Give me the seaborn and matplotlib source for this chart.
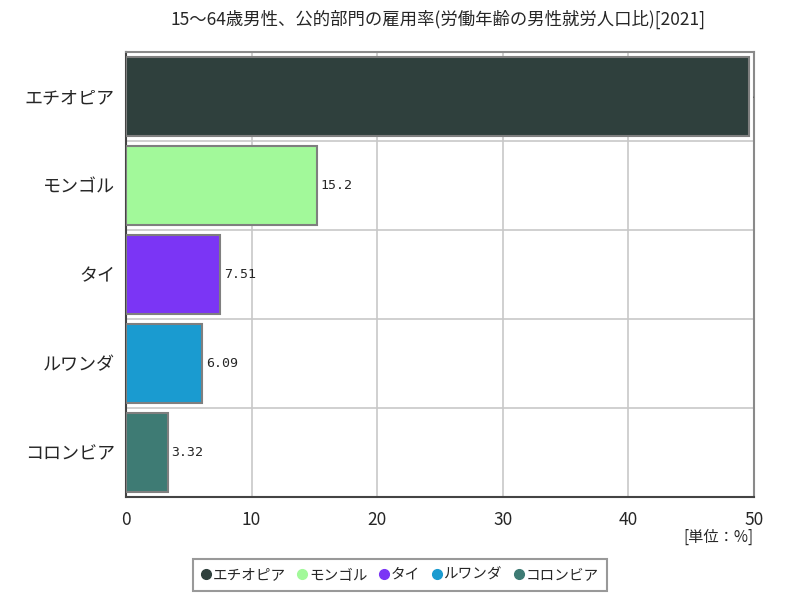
import matplotlib
matplotlib.use("Agg")
import matplotlib.pyplot as plt
from matplotlib.lines import Line2D
import seaborn as sns
import pandas as pd
import numpy as np

# données
countries = ["エチオピア", "モンゴル", "タイ", "ルワンダ", "コロンビア"]
values = [49.6, 15.2, 7.51, 6.09, 3.32]
labels = ["49.6", "15.2", "7.51", "6.09", "3.32"]
colors = ["#2f403d", "#a2f99a", "#7b35f5", "#1a9bd0", "#3e7b74"]
xticks = [0, 10, 20, 30, 40, 50]

title = "15～64歳男性、公的部門の雇用率(労働年齢の男性就労人口比)[2021]"
unit = "[単位：%]"

sns.set_style("white")
plt.rcParams["font.family"] = ["Noto Sans CJK JP", "DejaVu Sans"]

df = pd.DataFrame({"country": countries, "value": values})

fig = plt.figure(figsize=(8, 6), dpi=100)
ax = fig.add_axes([0.1575, 0.1717, 0.785, 0.7417])

sns.barplot(data=df, y="country", x="value", hue="country",
            palette=dict(zip(countries, colors)), orient="h", saturation=1,
            width=0.88, edgecolor="#7f7f7f", linewidth=1.5,
            legend=False, ax=ax, zorder=3)

ax.set_xlim(0, 50)
ax.set_ylim(4.5, -0.5)
ax.set_xticks(xticks)
ax.set_xticklabels([str(t) for t in xticks], fontsize=12.5)
ax.set_yticks(range(len(countries)))
ax.set_yticklabels(countries, fontsize=13)
ax.set_yticks(np.arange(-0.5, 5, 1), minor=True)
ax.tick_params(axis="y", which="both", length=0, pad=8)
ax.tick_params(axis="x", length=0, pad=10)
ax.set_xlabel("")
ax.set_ylabel("")

ax.grid(axis="x", color="#c8c8c8", linewidth=1.2, zorder=0)
ax.grid(axis="y", which="minor", color="#c8c8c8", linewidth=1.2, zorder=0)
ax.set_axisbelow(True)

for s in ["top", "right"]:
    ax.spines[s].set_color("#8a8a8a")
    ax.spines[s].set_linewidth(1.5)
for s in ["left", "bottom"]:
    ax.spines[s].set_color("#444444")
    ax.spines[s].set_linewidth(1.5)

for i, (v, lab) in enumerate(zip(values, labels)):
    ax.text(v + 0.3, i, lab, va="center", ha="left", fontsize=9.5,
            family="DejaVu Sans Mono", clip_on=True, zorder=4)

fig.text(0.548, 0.968, title, ha="center", va="center", fontsize=12.5)
fig.text(0.942, 0.105, unit, ha="right", va="center", fontsize=11)

handles = [Line2D([0], [0], marker="o", linestyle="", markersize=7,
                  markerfacecolor=c, markeredgecolor=c) for c in colors]
leg = fig.legend(handles, countries, loc="center", bbox_to_anchor=(0.5, 0.042),
                 ncol=5, fontsize=10.5, frameon=True, fancybox=False,
                 handlelength=0.6, handletextpad=0.15, columnspacing=0.85,
                 borderpad=0.6)
leg.get_frame().set_edgecolor("#808080")
leg.get_frame().set_linewidth(1.5)

fig.savefig("out.png", dpi=100)
